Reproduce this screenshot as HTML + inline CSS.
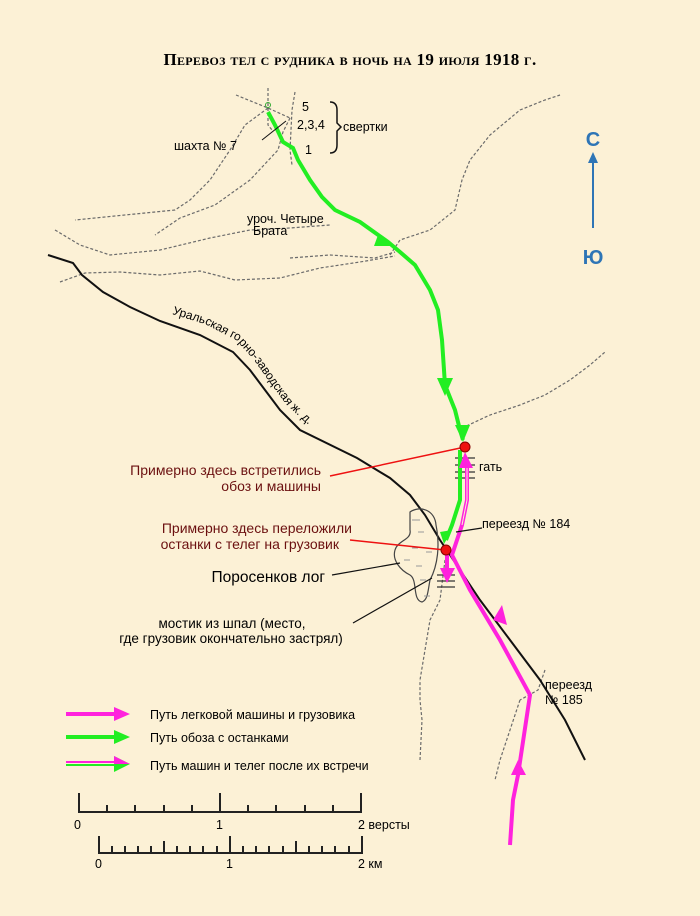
<!DOCTYPE html>
<html><head><meta charset="utf-8"><style>
html,body{margin:0;padding:0;background:#fcf1d6}
svg{display:block}
text{font-family:"Liberation Sans",sans-serif}
</style></head><body>
<svg width="700" height="916" viewBox="0 0 700 916" xmlns="http://www.w3.org/2000/svg">
<defs><path id="rt" d="M172,314 L205,324 L236,340 L254,360 L271,384 L286,404 L306,423 L350,446"/></defs>
<rect width="700" height="916" fill="#fcf1d6"/>
<text x="350" y="65" text-anchor="middle" font-weight="bold" font-size="17" style="font-family:'Liberation Serif',serif;font-variant:small-caps;letter-spacing:0.3px">Перевоз тел с рудника в ночь на 19 июля 1918 г.</text>
<!-- dashed roads -->
<g fill="none" stroke="#6b6b6b" stroke-width="1.2" stroke-dasharray="3,2">
<path d="M236,95 L268,108 L290,118"/>
<path d="M268,88 L268,125 L272,130"/>
<path d="M290,118 L283,132 L278,150 L250,180 L215,205 L180,218 L155,235"/>
<path d="M268,108 L245,125 L230,150 L210,180 L190,200 L175,210 L75,220"/>
<path d="M295,92 L292,110 L290,150 L292,165"/>
<path d="M55,230 L80,245 L110,255 L160,250 L210,238 L250,230 L290,228 L330,225"/>
<path d="M390,255 L400,240 L430,230 L455,210 L462,180 L470,160 L490,135 L520,110 L545,100 L560,95"/>
<path d="M290,258 L330,255 L375,258 L395,252"/>
<path d="M60,282 L85,273 L120,272 L160,275 L200,271 L235,280 L280,278 L320,268 L360,262 L395,256"/>
<path d="M462,428 L490,415 L520,405 L545,395 L570,380 L590,365 L605,352"/>
<path d="M445,560 L440,600 L430,620 L425,650 L420,680"/>
<path d="M420,760 L422,720 L420,700 L420,680"/>
<path d="M520,700 L500,760 L495,780"/>
<path d="M545,670 L538,690 L520,700"/>
</g>
<!-- railway -->
<path d="M48,255 L73,263 L82,275 L103,292 L130,307 L160,321 L200,335 L233,352 L250,370 L265,390 L280,410 L300,430 L357,458 L390,478 L410,495 L425,515 L440,540 L450,555 L480,600 L510,640 L540,680 L565,720 L585,760" fill="none" stroke="#111" stroke-width="2"/>
<text font-size="12"><textPath href="#rt">Уральская горно-заводская ж. д.</textPath></text>
<!-- pond -->
<path d="M410,512 C420,505 435,510 436,525 C440,545 438,565 430,580 C428,590 428,600 422,602 C412,600 418,580 410,575 C400,570 392,560 395,550 C398,540 412,540 410,530 Z" fill="none" stroke="#444" stroke-width="1.2"/>
<g stroke="#999" stroke-width="1"><path d="M412,520h8M418,532h6M412,548h6M404,560h6M416,566h6M420,580h6M426,552h6M424,596h6"/></g>
<!-- gat ticks -->
<g stroke="#333" stroke-width="1.2"><path d="M455,458h20M455,465h20M455,472h20M455,478h20"/><path d="M437,575h18M437,581h18M437,587h18"/></g>
<!-- green route -->
<path d="M268,112 L275,125 L283,142 L293,148 L298,160 L310,180 L322,197 L335,210 L360,222 L388,242 L400,252 L415,265 L430,290 L438,310 L442,340 L445,385 L455,410 L460,430 L463,440" fill="none" stroke="#22ee22" stroke-width="4"/>
<path d="M378,235 L392,246 L374,246 Z" fill="#22ee22"/>
<path d="M437,378 L453,378 L445,396 Z" fill="#22ee22"/>
<path d="M455,425 L470,425 L463,442 Z" fill="#22ee22"/>
<path d="M460,450 L460,500 L452,525 L446,540" fill="none" stroke="#22ee22" stroke-width="4"/>
<path d="M440,532 L452,530 L444,544 Z" fill="#22ee22"/>
<!-- magenta -->
<path d="M510,845 L513,800 L518,775 L524,735 L530,695 L500,640 L470,590 L452,555 L462,525 L467,500 L467,460" fill="none" stroke="#ff22dd" stroke-width="4"/>
<path d="M467,460 L467,500 L462,525" fill="none" stroke="#fcf1d6" stroke-width="1"/>
<path d="M459,468 L465,452 L473,468 Z" fill="#ff22dd"/>
<path d="M493,620 L502,605 L507,625 Z" fill="#ff22dd"/>
<path d="M511,775 L518,760 L526,775 Z" fill="#ff22dd"/>
<path d="M447,552 L447,575" stroke="#ff22dd" stroke-width="4"/>
<path d="M440,568 L455,568 L447,583 Z" fill="#ff22dd"/>
<!-- red markers -->
<path d="M330,476 L465,447 M350,540 L445,550" stroke="#ee1111" stroke-width="1.5"/>
<circle cx="465" cy="447" r="5" fill="#ee1111" stroke="#800" stroke-width="1"/>
<circle cx="446" cy="550" r="5" fill="#ee1111" stroke="#800" stroke-width="1"/>
<!-- leaders -->
<path d="M332,575 L400,563 M353,623 L432,578 M456,532 L482,528" stroke="#111" stroke-width="1.2"/>
<path d="M286,121 L262,140" stroke="#111" stroke-width="1"/>
<circle cx="268" cy="105" r="2.5" fill="none" stroke="#3a3" stroke-width="1"/>
<!-- labels -->
<text x="174" y="150" font-size="12.5">шахта № 7</text>
<text x="302" y="111" font-size="12.5">5</text>
<text x="297" y="129" font-size="12.5">2,3,4</text>
<text x="305" y="154" font-size="12.5">1</text>
<path d="M330,102 Q337,102 337,110 L337,123 L341,127 L337,131 L337,145 Q337,153 330,153" fill="none" stroke="#111" stroke-width="1.5"/>
<text x="343" y="131" font-size="12.5">свертки</text>
<text x="247" y="223" font-size="12.5">уроч. Четыре</text>
<text x="253" y="235" font-size="12.5">Брата</text>
<text x="479" y="471" font-size="12.5">гать</text>
<text x="482" y="528" font-size="12.5">переезд № 184</text>
<text x="545" y="689" font-size="12.5">переезд</text>
<text x="545" y="704" font-size="12.5">№ 185</text>
<g fill="#6b1010" font-size="14" text-anchor="end"><text x="321" y="475">Примерно здесь встретились</text><text x="321" y="491">обоз и машины</text><text x="352" y="533">Примерно здесь переложили</text><text x="339" y="549">останки с телег на грузовик</text></g>
<text x="325" y="582" font-size="15.5" text-anchor="end">Поросенков лог</text>
<text x="232" y="628" font-size="13.5" text-anchor="middle">мостик из шпал (место,</text>
<text x="231" y="643" font-size="13.5" text-anchor="middle">где грузовик окончательно застрял)</text>
<!-- north -->
<text x="593" y="146" font-size="20" fill="#2e75b6" text-anchor="middle" font-weight="bold">С</text>
<path d="M593,228 L593,162" stroke="#2e75b6" stroke-width="2"/>
<path d="M588,163 L593,152 L598,163 Z" fill="#2e75b6"/>
<text x="593" y="264" font-size="20" fill="#2e75b6" text-anchor="middle" font-weight="bold">Ю</text>
<!-- legend -->
<path d="M66,714 L115,714" stroke="#ff22dd" stroke-width="4"/><path d="M114,707 L130,714 L114,721 Z" fill="#ff22dd"/>
<path d="M66,737 L115,737" stroke="#22ee22" stroke-width="4"/><path d="M114,730 L130,737 L114,744 Z" fill="#22ee22"/>
<path d="M66,762 L115,762" stroke="#ff22dd" stroke-width="2"/><path d="M66,765 L115,765" stroke="#22ee22" stroke-width="2"/><path d="M114,756 L130,764 L114,772 Z" fill="#22ee22"/><path d="M114,756 L130,764 L114,764 Z" fill="#ff22dd"/>
<text x="150" y="719" font-size="12.5">Путь легковой машины и грузовика</text>
<text x="150" y="742" font-size="12.5">Путь обоза с останками</text>
<text x="150" y="770" font-size="12.5">Путь машин и телег после их встречи</text>
<!-- scales -->
<g stroke="#222" stroke-width="2" fill="none">
<path d="M79,793 L79,812 L361,812 L361,793 M220,793 L220,812"/>
<path d="M107,805v7M135,805v7M164,805v7M192,805v7M248,805v7M276,805v7M305,805v7M333,805v7"/>
<path d="M99,836 L99,853 L362,853 L362,836 M230,836 L230,853 M164,841 L164,853 M296,841 L296,853"/>
<path d="M112,846v7M125,846v7M138,846v7M151,846v7M177,846v7M190,846v7M203,846v7M217,846v7M243,846v7M256,846v7M269,846v7M283,846v7M309,846v7M322,846v7M335,846v7M349,846v7"/>
</g>
<g font-size="12.5"><text x="74" y="829">0</text><text x="216" y="829">1</text><text x="358" y="829">2 версты</text>
<text x="95" y="868">0</text><text x="226" y="868">1</text><text x="358" y="868">2 км</text></g>
</svg>
</body></html>
